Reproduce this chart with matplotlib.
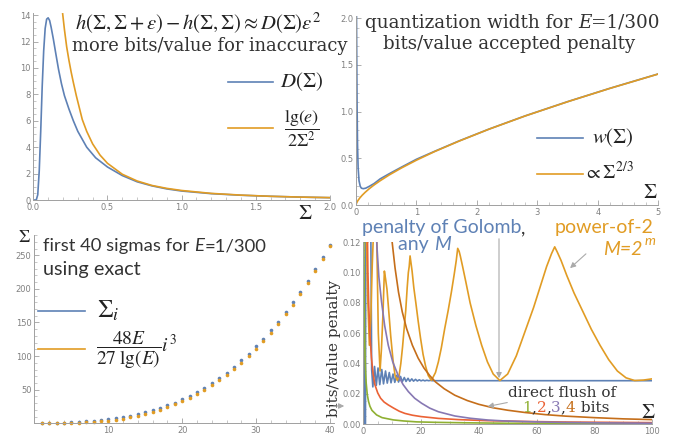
import matplotlib
matplotlib.use("Agg")
import matplotlib.pyplot as plt
from matplotlib.ticker import MultipleLocator, FixedLocator, FormatStrFormatter

plt.rcParams['mathtext.fontset'] = 'stix'

W, H = 677, 436
BLUE = '#5E81B5'
ORANGE = '#E19C24'
GREEN = '#8FB032'
RED = '#EB6235'
PURPLE = '#8778B3'
BROWN = '#C56E1A'
TXT = '#333333'
ARR = '#AAAAAA'

# ---- panel 1: D(Sigma) and lg(e)/(2 Sigma^2)
d_sig = [0.0, 0.02, 0.03, 0.04, 0.05, 0.06, 0.07, 0.08, 0.09, 0.1, 0.11, 0.12, 0.135, 0.15, 0.17,
         0.19, 0.21, 0.24, 0.27, 0.3, 0.36, 0.42, 0.5, 0.6, 0.7, 0.8, 0.9, 1.0, 1.2, 1.4, 1.6, 1.8, 2.0]
d_val = [0.0, 0.0, 0.4, 2.2, 5.2, 8.6, 11.3, 13.0, 13.7, 13.8, 13.6, 13.1, 12.2, 11.2, 9.9,
         8.8, 7.9, 6.9, 6.0, 5.2, 4.0, 3.2, 2.5, 1.85, 1.38, 1.07, 0.84, 0.68, 0.48, 0.36, 0.28, 0.22, 0.175]
lg_sig = [0.198, 0.21, 0.225, 0.24, 0.255, 0.27, 0.29, 0.31, 0.33, 0.36, 0.4, 0.45, 0.5, 0.6, 0.7,
          0.8, 0.9, 1.0, 1.2, 1.4, 1.6, 1.8, 2.0]
lg_val = [14.1, 12.9, 11.6, 10.6, 9.7, 8.9, 7.9, 7.0, 6.1, 5.2, 4.25, 3.4, 2.78, 1.95, 1.44,
          1.1, 0.88, 0.72, 0.5, 0.37, 0.28, 0.22, 0.18]

# ---- panel 2: quantization width
w_sig = [0.008, 0.012, 0.018, 0.025, 0.035, 0.05, 0.07, 0.09, 0.12, 0.16, 0.22, 0.3, 0.4, 0.55,
         0.75, 1.0, 1.3, 1.7, 2.2, 2.8, 3.5, 4.2, 5.0]
w_val = [2.05, 1.6, 1.05, 0.65, 0.4, 0.26, 0.2, 0.18, 0.175, 0.18, 0.2, 0.23, 0.28, 0.335,
         0.405, 0.49, 0.575, 0.685, 0.813, 0.955, 1.107, 1.25, 1.404]
p_sig = [0.0, 0.01, 0.03, 0.06, 0.1, 0.15, 0.22, 0.3, 0.4, 0.55, 0.75, 1.0, 1.3, 1.7, 2.2, 2.8,
         3.5, 4.2, 5.0]
p_val = [0.0, 0.022, 0.046, 0.073, 0.103, 0.135, 0.175, 0.215, 0.26, 0.322, 0.396, 0.48, 0.572,
         0.683, 0.812, 0.954, 1.106, 1.249, 1.403]

# ---- panel 3: first 40 sigmas
idx = list(range(1, 41))
sig_exact = [0.2, 0.4, 0.7, 1.1, 1.5, 2.1, 2.8, 3.7, 4.7, 6.0, 7.5, 9.3, 11.3, 13.7, 16.3, 19.4,
             22.8, 26.6, 30.9, 35.7, 40.9, 46.7, 53.0, 59.9, 67.4, 75.5, 84.2, 93.6, 103.7, 114.5,
             126.0, 138.3, 151.4, 165.3, 180.0, 195.6, 212.1, 229.5, 247.8, 265.5]
sig_approx = [0.0, 0.0, 0.1, 0.3, 0.5, 0.9, 1.4, 2.1, 3.0, 4.1, 5.5, 7.1, 9.1, 11.3, 13.9, 16.9,
              20.2, 24.0, 28.3, 33.0, 38.2, 43.9, 50.1, 57.0, 64.4, 72.4, 81.1, 90.4, 100.5, 111.2,
              122.7, 135.0, 148.1, 161.9, 176.6, 192.2, 208.7, 226.1, 244.4, 263.7]

# ---- panel 4: penalties
gol_x = [0.3, 0.42, 0.55, 0.75, 0.85, 2.6, 2.9, 3.3, 3.9, 4.5, 5.1, 5.7, 6.4, 7.0, 7.7, 8.3, 9.0,
         9.6, 10.3, 10.9, 11.6, 12.2, 12.9, 13.5, 14.2, 14.8, 15.5, 16.1, 16.8, 17.4, 18.1, 18.7,
         19.4, 20.0, 20.7, 21.3, 22.0, 22.6, 23.3, 24.0, 100.0]
gol_y = [0.0, 0.081, 0.0, 0.0, 0.13, 0.13, 0.036, 0.0245, 0.038, 0.0255, 0.037, 0.026, 0.036,
         0.0265, 0.035, 0.027, 0.034, 0.0272, 0.033, 0.0275, 0.0322, 0.0277, 0.0314, 0.0279,
         0.0307, 0.0281, 0.0302, 0.0282, 0.0298, 0.0283, 0.0295, 0.0284, 0.0292, 0.0285, 0.029,
         0.0285, 0.0289, 0.0286, 0.0288, 0.0286, 0.0286]
pow2_x = [1.0, 1.5, 2.1, 2.6, 3.1, 3.6, 4.6, 5.2, 5.8, 6.3, 6.8, 7.3, 7.7, 8.2, 8.8, 9.5, 10.3,
          11.0, 11.8, 12.4, 13.0, 13.6, 14.1, 14.7, 15.2, 15.6, 15.9, 16.2, 16.9, 17.5, 18.2, 19.0,
          19.8, 20.7, 21.6, 22.5, 23.6, 25.0, 26.0, 27.0, 28.2, 29.4, 30.5, 31.5, 32.2, 32.7, 33.2,
          33.6, 34.4, 35.5, 37.0, 39.0, 41.0, 43.0, 45.0, 47.3, 50.0, 53.0, 56.0, 59.0, 61.5, 63.5,
          65.2, 66.3, 67.2, 68.5, 70.5, 73.0, 76.0, 79.0, 82.0, 85.0, 88.0, 91.0, 94.0, 97.0, 100.0]
pow2_y = [0.13, 0.085, 0.052, 0.07, 0.105, 0.13, 0.13, 0.06, 0.035, 0.05, 0.072, 0.101, 0.096,
          0.089, 0.075, 0.058, 0.042, 0.032, 0.0288, 0.032, 0.04, 0.051, 0.062, 0.075, 0.09, 0.1,
          0.104, 0.111, 0.101, 0.09, 0.08, 0.068, 0.057, 0.046, 0.038, 0.032, 0.0288, 0.034, 0.041,
          0.05, 0.063, 0.075, 0.087, 0.099, 0.108, 0.116, 0.114, 0.111, 0.104, 0.094, 0.08, 0.065,
          0.052, 0.041, 0.033, 0.0287, 0.033, 0.045, 0.061, 0.077, 0.092, 0.104, 0.1125, 0.117,
          0.1135, 0.108, 0.098, 0.0865, 0.0745, 0.0625, 0.052, 0.0425, 0.035, 0.0305, 0.0287,
          0.029, 0.0298]
b1_x = [0.22, 0.3, 0.4, 0.5, 0.65, 0.8, 1.0, 1.38, 1.8, 2.3, 3.0, 4.6, 6.5, 10.4, 14, 18.5, 25, 35,
        50, 70, 100]
b1_y = [0.13, 0.09, 0.068, 0.054, 0.042, 0.034, 0.027, 0.0194, 0.015, 0.0117, 0.009, 0.006, 0.0042,
        0.0027, 0.002, 0.0014, 0.0011, 0.0008, 0.0005, 0.0004, 0.0003]
b2_x = [1.4, 1.6, 1.9, 2.3, 2.8, 3.4, 4.0, 5.0, 6.0, 7.2, 8.65, 10.5, 12.5, 14.4, 17, 20, 26, 33,
        43, 55, 70, 85, 100]
b2_y = [0.13, 0.1, 0.078, 0.059, 0.044, 0.033, 0.026, 0.0205, 0.017, 0.0145, 0.0126, 0.0105,
        0.0084, 0.007, 0.0058, 0.0049, 0.0037, 0.0029, 0.0022, 0.0017, 0.0013, 0.0011, 0.0009]
b3_x = [4.4, 4.8, 5.4, 6.3, 7.4, 8.65, 10.2, 12.1, 13.8, 15.6, 17.8, 20.2, 23, 26, 31.7, 37, 43.3,
        49, 60, 70, 85, 100]
b3_y = [0.13, 0.115, 0.097, 0.081, 0.065, 0.052, 0.041, 0.032, 0.026, 0.0214, 0.017, 0.0137,
        0.0105, 0.0081, 0.0053, 0.0038, 0.0026, 0.002, 0.0014, 0.001, 0.0007, 0.0005]
b4_x = [9.6, 10.0, 11.0, 12.2, 13.5, 15.0, 17.0, 19.0, 21.0, 23.0, 25.0, 28.0, 31.7, 36.0, 40.0,
        45.0, 50.0, 56.0, 63.0, 70.0, 80.0, 90.0, 100.0]
b4_y = [0.128, 0.12, 0.103, 0.087, 0.074, 0.063, 0.052, 0.0435, 0.037, 0.032, 0.0278, 0.0233,
        0.019, 0.0155, 0.013, 0.0107, 0.0091, 0.0076, 0.0062, 0.0052, 0.0042, 0.0034, 0.0029]

fig = plt.figure(figsize=(W / 100, H / 100), dpi=100)


def add_panel(x0, x1, ytop, ybot):
    return fig.add_axes([x0 / W, 1 - ybot / H, (x1 - x0) / W, (ybot - ytop) / H])


def style(ax, xmaj, xmin, ymaj, ymin):
    ax.set_facecolor('none')
    for s in ['top', 'right']:
        ax.spines[s].set_visible(False)
    for s in ['left', 'bottom']:
        ax.spines[s].set_color('#A0A0A0')
        ax.spines[s].set_linewidth(0.7)
    ax.xaxis.set_major_locator(xmaj)
    ax.xaxis.set_minor_locator(MultipleLocator(xmin))
    ax.yaxis.set_major_locator(ymaj)
    ax.yaxis.set_minor_locator(MultipleLocator(ymin))
    ax.tick_params(which='major', direction='in', length=3.5, width=0.6, color='#A0A0A0',
                   labelsize=6, labelcolor='#808080', pad=2)
    ax.tick_params(which='minor', direction='in', length=2, width=0.5, color='#B0B0B0')


lw = 1.2

ax1 = add_panel(33.3, 330, 13.2, 200)
ax1.plot(d_sig, d_val, color=BLUE, lw=lw)
ax1.plot(lg_sig, lg_val, color=ORANGE, lw=lw)
ax1.set_xlim(0, 2)
ax1.set_ylim(0, 14.15)
style(ax1, MultipleLocator(0.5), 0.1, MultipleLocator(2), 0.5)

ax2 = add_panel(356, 658.3, 16.4, 205)
ax2.plot(w_sig, w_val, color=BLUE, lw=lw)
ax2.plot(p_sig, p_val, color=ORANGE, lw=lw)
ax2.set_xlim(0, 5)
ax2.set_ylim(0, 2.02)
style(ax2, MultipleLocator(1), 0.2, MultipleLocator(0.5), 0.1)

ax3 = add_panel(34.4, 333.7, 235.1, 423.3)
ax3.plot(idx, sig_exact, 'o', color=BLUE, ms=2.6, mec='none', clip_on=False)
ax3.plot(idx, sig_approx, 'o', color=ORANGE, ms=2.6, mec='none', clip_on=False)
ax3.set_xlim(0, 40.5)
ax3.set_ylim(0, 280)
style(ax3, FixedLocator([10, 20, 30, 40]), 2, FixedLocator([50, 100, 150, 200, 250]), 10)

ax4 = add_panel(363.3, 652, 242.0, 424)
ax4.plot(gol_x, gol_y, color=BLUE, lw=lw)
ax4.plot(pow2_x, pow2_y, color=ORANGE, lw=lw)
ax4.plot(b1_x, b1_y, color=GREEN, lw=lw)
ax4.plot(b2_x, b2_y, color=RED, lw=lw)
ax4.plot(b3_x, b3_y, color=PURPLE, lw=lw)
ax4.plot(b4_x, b4_y, color=BROWN, lw=lw)
ax4.set_xlim(0, 100)
ax4.set_ylim(0, 0.1202)
style(ax4, MultipleLocator(20), 5, MultipleLocator(0.02), 0.005)
ax4.yaxis.set_major_formatter(FormatStrFormatter('%.2f'))

# overlay in pixel coordinates for texts, legends and arrows
ov = fig.add_axes([0, 0, 1, 1])
ov.set_xlim(0, W)
ov.set_ylim(H, 0)
ov.axis('off')
ov.set_facecolor('none')

renderer = fig.canvas.get_renderer()


def seq_text(x, y, pieces):
    for s, kw in pieces:
        t = ov.text(x, y, s, ha='left', va='baseline', **kw)
        x = t.get_window_extent(renderer).x1


serif = dict(family='DejaVu Serif', color=TXT)
sans = dict(family='Lato', color=TXT)
MATH = '#222222'

# panel 1 texts
ov.text(198, 30, r'$h(\Sigma,\Sigma+\varepsilon)-h(\Sigma,\Sigma)\approx D(\Sigma)\varepsilon^2$',
        ha='center', va='baseline', fontsize=14.9, color=MATH)
ov.text(210, 51, 'more bits/value for inaccuracy', ha='center', va='baseline', fontsize=12.9, **serif)
ov.plot([228, 273], [82, 82], color=BLUE, lw=lw)
ov.text(280, 82, r'$D(\Sigma)$', ha='left', va='center', fontsize=15, color=MATH)
ov.plot([228, 273], [128, 128], color=ORANGE, lw=lw)
ov.text(284, 129, r'$\dfrac{\mathrm{lg}(e)}{2\Sigma^2}$', ha='left', va='center', fontsize=13,
        color=MATH)
ov.text(305, 213, r'$\Sigma$', ha='center', va='center', fontsize=15, color=MATH)

# panel 2 texts
seq_text(365, 27.5, [('quantization width for ', dict(fontsize=13.2, **serif)),
                     ('E', dict(fontsize=13.2, style='italic', **serif)),
                     ('=1/300', dict(fontsize=13.2, **serif))])
ov.text(509, 49, 'bits/value accepted penalty', ha='center', va='baseline', fontsize=13.1, **serif)
ov.plot([537, 583], [138, 138], color=BLUE, lw=lw)
ov.text(592, 138, r'$w(\Sigma)$', ha='left', va='center', fontsize=15, color=MATH)
ov.plot([537, 583], [174, 174], color=ORANGE, lw=lw)
ov.text(584, 172, r'$\propto\Sigma^{2/3}$', ha='left', va='center', fontsize=14, color=MATH)
ov.text(650, 192, r'$\Sigma$', ha='center', va='center', fontsize=15, color=MATH)

# panel 3 texts
seq_text(43, 251, [('first 40 sigmas for ', dict(fontsize=13.3, **sans)),
                   ('E', dict(fontsize=13.3, style='italic', **sans)),
                   ('=1/300', dict(fontsize=13.3, **sans))])
ov.text(43, 275, 'using exact', ha='left', va='baseline', fontsize=14.3, **sans)
ov.plot([38, 85], [311, 311], color=BLUE, lw=lw)
ov.text(97, 311, r'$\Sigma_i$', ha='left', va='center', fontsize=18, color=MATH)
ov.plot([38, 85], [349, 349], color=ORANGE, lw=lw)
ov.text(96, 350, r'$\dfrac{48E}{27\;\mathrm{lg}(E)}i^3$', ha='left', va='center', fontsize=14,
        color=MATH)
ov.text(24, 237, r'$\Sigma$', ha='center', va='center', fontsize=13, color=MATH)

# panel 4 texts
seq_text(362, 233, [('penalty of Golomb', dict(fontsize=14, family='Lato', color=BLUE)),
                    (',', dict(fontsize=14, **sans))])
seq_text(398, 250, [('any ', dict(fontsize=14, family='Lato', color=BLUE)),
                    ('M', dict(fontsize=14, family='Lato', style='italic', color=BLUE))])
ov.text(555, 233, 'power-of-2', ha='left', va='baseline', fontsize=14, family='Lato', color=ORANGE)
seq_text(603, 255, [('M=2', dict(fontsize=14, family='Lato', style='italic', color=ORANGE))])
ov.text(645, 245, 'm', ha='left', va='baseline', fontsize=10, family='Lato', style='italic',
        color=ORANGE)
ov.text(508, 397, 'direct flush of', ha='left', va='baseline', fontsize=11, **serif)
seq_text(522, 412, [('1', dict(fontsize=11, family='DejaVu Serif', color=GREEN)),
                    (',', dict(fontsize=11, **serif)),
                    ('2', dict(fontsize=11, family='DejaVu Serif', color=RED)),
                    (',', dict(fontsize=11, **serif)),
                    ('3', dict(fontsize=11, family='DejaVu Serif', color=PURPLE)),
                    (',', dict(fontsize=11, **serif)),
                    ('4', dict(fontsize=11, family='DejaVu Serif', color=BROWN)),
                    (' bits', dict(fontsize=11, **serif))])
ov.text(334, 348, 'bits/value penalty', rotation=90, ha='center', va='center', fontsize=11, **serif)
ov.text(648, 412, r'$\Sigma$', ha='center', va='center', fontsize=15, color=MATH)

arrow = dict(arrowstyle='-|>', color=ARR, lw=0.8, mutation_scale=8)
ov.annotate('', xy=(568, 270), xytext=(588, 252), arrowprops=arrow)
ov.annotate('', xy=(499, 381), xytext=(499, 236), arrowprops=arrow)
ov.annotate('', xy=(485, 407), xytext=(510, 402), arrowprops=arrow)
ov.annotate('', xy=(347, 406), xytext=(331, 406), arrowprops=arrow)

fig.savefig('out.png', dpi=100)
